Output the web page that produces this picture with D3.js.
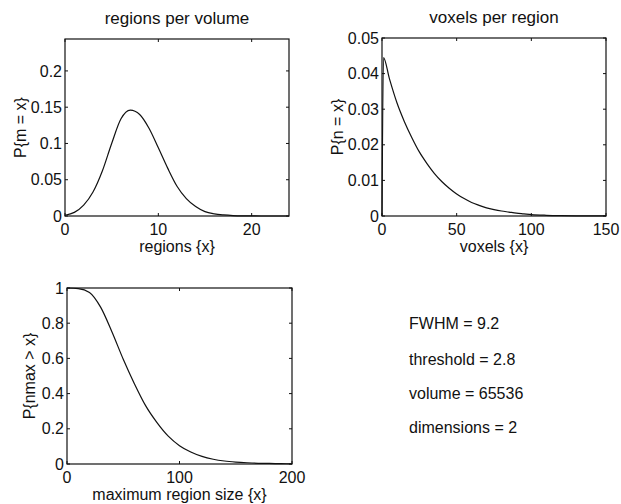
<!DOCTYPE html>
<html>
<head>
<meta charset="utf-8">
<script src="https://cdn.jsdelivr.net/npm/d3@7/dist/d3.min.js"></script>
<style>
  html, body { margin: 0; padding: 0; background: #fff; }
  svg { display: block; }
  text { font-family: "Liberation Sans", Arial, Helvetica, sans-serif; fill: #111; }
</style>
</head>
<body>
<svg id="chart" width="621" height="504"></svg>
<script>
// ---- Data ----
// Panel 1: regions per volume
const regionsX = [0,1,2,3,4,5,6,7,8,9,10,11,12,13,14,15,16,17,18,19,20,21,22,23,24];
const regionsP = [0.001,0.005,0.015,0.033,0.062,0.100,0.134,0.146,0.140,0.121,0.094,0.066,0.041,0.024,0.013,0.006,0.003,0.0015,0.0006,0.0002,0.0001,0,0,0,0];
const regionsXTicks = [0,10,20];
const regionsYTicks = [0,0.05,0.1,0.15,0.2];

// Panel 2: voxels per region
const voxelsX = [0,1,5,10,15,20,25,30,35,40,45,50,55,60,65,70,75,80,85,90,95,100,110,120,130,140,150];
const voxelsP = [0,0.0445,0.0385,0.0318,0.0265,0.0220,0.0180,0.0148,0.0120,0.0097,0.0078,0.0062,0.0049,0.0038,0.0030,0.0023,0.0018,0.0014,0.0011,0.0008,0.0006,0.0004,0.0002,0.0001,0.00005,0.00002,0.00001];
const voxelsXTicks = [0,50,100,150];
const voxelsYTicks = [0,0.01,0.02,0.03,0.04,0.05];

// Panel 3: maximum region size
const maxSizeX = [0,10,20,30,40,50,60,70,80,90,100,110,120,130,140,150,160,170,180,190,200];
const maxSizeP = [1.000,0.997,0.975,0.89,0.75,0.595,0.455,0.33,0.235,0.158,0.104,0.068,0.043,0.027,0.017,0.011,0.007,0.004,0.003,0.002,0.001];
const maxSizeXTicks = [0,100,200];
const maxSizeYTicks = [0,0.2,0.4,0.6,0.8,1];

// Parameter text
const paramLines = ["FWHM = 9.2", "threshold = 2.8", "volume = 65536", "dimensions = 2"];

// ---- Drawing ----
const svg = d3.select("#chart");
const FS = 16;

function fmt(v) {
  if (v === 0) return "0";
  return String(+v.toFixed(4));
}

function panel(cfg) {
  const {left, top, right, bottom, xDomain, yDomain, xTicks, yTicks, xs, ys, title, xLabel, yLabel, yLabelX} = cfg;
  const x = d3.scaleLinear().domain(xDomain).range([left, right]);
  const y = d3.scaleLinear().domain(yDomain).range([bottom, top]);
  const g = svg.append("g");
  const tl = 3;

  const tickG = g.append("g").attr("stroke", "#111").attr("stroke-width", 1);
  xTicks.forEach(t => {
    tickG.append("line").attr("x1", x(t)).attr("x2", x(t)).attr("y1", bottom).attr("y2", bottom - tl);
    tickG.append("line").attr("x1", x(t)).attr("x2", x(t)).attr("y1", top).attr("y2", top + tl);
  });
  yTicks.forEach(t => {
    tickG.append("line").attr("x1", left).attr("x2", left + tl).attr("y1", y(t)).attr("y2", y(t));
    tickG.append("line").attr("x1", right).attr("x2", right - tl).attr("y1", y(t)).attr("y2", y(t));
  });

  g.append("rect").attr("x", left).attr("y", top).attr("width", right - left).attr("height", bottom - top)
    .attr("fill", "none").attr("stroke", "#111").attr("stroke-width", 1.2);

  g.selectAll(".xt").data(xTicks).enter().append("text")
    .attr("x", d => x(d)).attr("y", bottom + 19)
    .attr("text-anchor", "middle").attr("font-size", FS).text(fmt);
  g.selectAll(".yt").data(yTicks).enter().append("text")
    .attr("x", left - 3).attr("y", d => y(d)).attr("dy", "0.35em")
    .attr("text-anchor", "end").attr("font-size", FS).text(fmt);

  const line = d3.line().curve(d3.curveMonotoneX)
    .x((d, i) => x(xs[i])).y((d, i) => y(ys[i]));
  g.append("path").datum(ys).attr("d", line)
    .attr("fill", "none").attr("stroke", "#111").attr("stroke-width", 1.2);

  if (title) {
    g.append("text").attr("x", (left + right) / 2).attr("y", top - 15)
      .attr("text-anchor", "middle").attr("font-size", 17).text(title);
  }
  g.append("text").attr("x", (left + right) / 2).attr("y", bottom + 36)
    .attr("text-anchor", "middle").attr("font-size", FS).text(xLabel);
  g.append("text")
    .attr("transform", `translate(${yLabelX},${(top + bottom) / 2}) rotate(-90)`)
    .attr("dy", "0.35em")
    .attr("text-anchor", "middle").attr("font-size", FS).text(yLabel);
}

panel({left: 65, top: 39, right: 289, bottom: 216,
  xDomain: [0, 24], yDomain: [0, 0.244],
  xTicks: regionsXTicks, yTicks: regionsYTicks, xs: regionsX, ys: regionsP,
  title: "regions per volume", xLabel: "regions {x}", yLabel: "P{m = x}", yLabelX: 20});

panel({left: 382, top: 38, right: 606, bottom: 216,
  xDomain: [0, 150], yDomain: [0, 0.05],
  xTicks: voxelsXTicks, yTicks: voxelsYTicks, xs: voxelsX, ys: voxelsP,
  title: "voxels per region", xLabel: "voxels {x}", yLabel: "P{n = x}", yLabelX: 337});

panel({left: 67, top: 288, right: 292, bottom: 464,
  xDomain: [0, 200], yDomain: [0, 1],
  xTicks: maxSizeXTicks, yTicks: maxSizeYTicks, xs: maxSizeX, ys: maxSizeP,
  title: null, xLabel: "maximum region size {x}", yLabel: "P{nmax > x}", yLabelX: 29});

const baselines = [329, 365, 399, 433];
svg.append("g").selectAll("text").data(paramLines).enter().append("text")
  .attr("x", 409).attr("y", (d, i) => baselines[i])
  .attr("font-size", FS).text(d => d);
</script>
</body>
</html>
